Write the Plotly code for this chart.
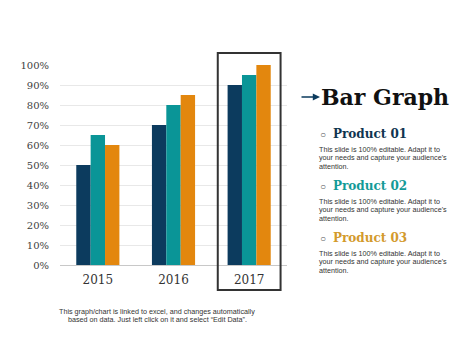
import plotly.graph_objects as go

years = ["2015", "2016", "2017"]
product_01 = [0.50, 0.70, 0.90]
product_02 = [0.65, 0.80, 0.95]
product_03 = [0.60, 0.85, 1.00]
series_names = ["Product 01", "Product 02", "Product 03"]
colors = ["#0c3b5e", "#0a9597", "#e3870e"]
heading_colors = ["#0f3550", "#139a97", "#d39a2c"]
desc_lines = ["This slide is 100% editable. Adapt it to",
              "your needs and capture your audience's",
              "attention."]
footer_lines = ["This graph/chart is linked to excel, and changes automatically",
                "based on data. Just left click on it and select \u201cEdit Data\u201d."]

OFF = 8  # page body margin
W, H = 474 - OFF, 355 - OFF
L, R, T, B = 60, 287, 65, 265

def px(x):
    return (x - L) / (R - L)

def py(y):
    return (B - y) / (B - T)

fig = go.Figure()
for name, vals, c in zip(series_names, [product_01, product_02, product_03], colors):
    fig.add_trace(go.Bar(x=years, y=vals, name=name, marker_color=c, marker_line_width=0))

serif = "Georgia, 'DejaVu Serif', serif"
sans = "Arial, 'Liberation Sans', sans-serif"

fig.update_layout(
    width=W, height=H,
    margin=dict(l=L - OFF, r=474 - R, t=T - OFF, b=355 - B),
    paper_bgcolor="white", plot_bgcolor="white",
    showlegend=False, barmode="group", bargap=0.43, bargroupgap=0,
    xaxis=dict(type="category", showline=True, linecolor="#c8c8c8", linewidth=1,
               tickfont=dict(family=serif, size=12, color="#333333"), ticks="",
               showgrid=False, ticklabelstandoff=4),
    yaxis=dict(range=[0, 1.0], tickformat=".0%", dtick=0.1, showgrid=True,
               gridcolor="#e8e8e8", gridwidth=1, zeroline=False,
               tickfont=dict(family=serif, size=10, color="#404040"), ticks="",
               ticklabelstandoff=10),
)

# box around 2017
fig.add_shape(type="rect", xref="x", yref="paper", x0=1.585, x1=2.415,
              y0=py(290), y1=py(53), line=dict(color="#333333", width=2),
              fillcolor="rgba(0,0,0,0)")

ann = []
ann.append(dict(x=px(320), y=py(97), xref="paper", yref="paper", ax=-20, ay=0,
                text="", showarrow=True, arrowhead=2, arrowsize=0.9, arrowwidth=1.6,
                arrowcolor="#0c3b5e"))
ann.append(dict(x=px(319), y=py(97), xref="paper", yref="paper", xanchor="left",
                yanchor="middle", text="<b>Bar Graph</b>", showarrow=False,
                font=dict(family=serif, size=22, color="#111111")))
head_y = [134, 186, 238]
for i, (name, c) in enumerate(zip(series_names, heading_colors)):
    y0 = head_y[i]
    ann.append(dict(x=px(318), y=py(y0), xref="paper", yref="paper", xanchor="left",
                    yanchor="middle", text="\u25cb", showarrow=False,
                    font=dict(family=sans, size=10, color="#555555")))
    ann.append(dict(x=px(331), y=py(y0), xref="paper", yref="paper", xanchor="left",
                    yanchor="middle", text="<b>%s</b>" % name, showarrow=False,
                    font=dict(family=serif, size=12, color=c)))
    for j, line in enumerate(desc_lines):
        ann.append(dict(x=px(317), y=py(y0 + 15 + j * 8.5), xref="paper", yref="paper",
                        xanchor="left", yanchor="middle", text=line, showarrow=False,
                        font=dict(family=sans, size=7.2, color="#333333")))
for j, line in enumerate(footer_lines):
    ann.append(dict(x=px(157), y=py(311 + j * 8.5), xref="paper", yref="paper",
                    xanchor="center", yanchor="middle", text=line, showarrow=False,
                    font=dict(family=sans, size=7.2, color="#333333")))
fig.update_layout(annotations=ann)

fig.write_html("out.html")
